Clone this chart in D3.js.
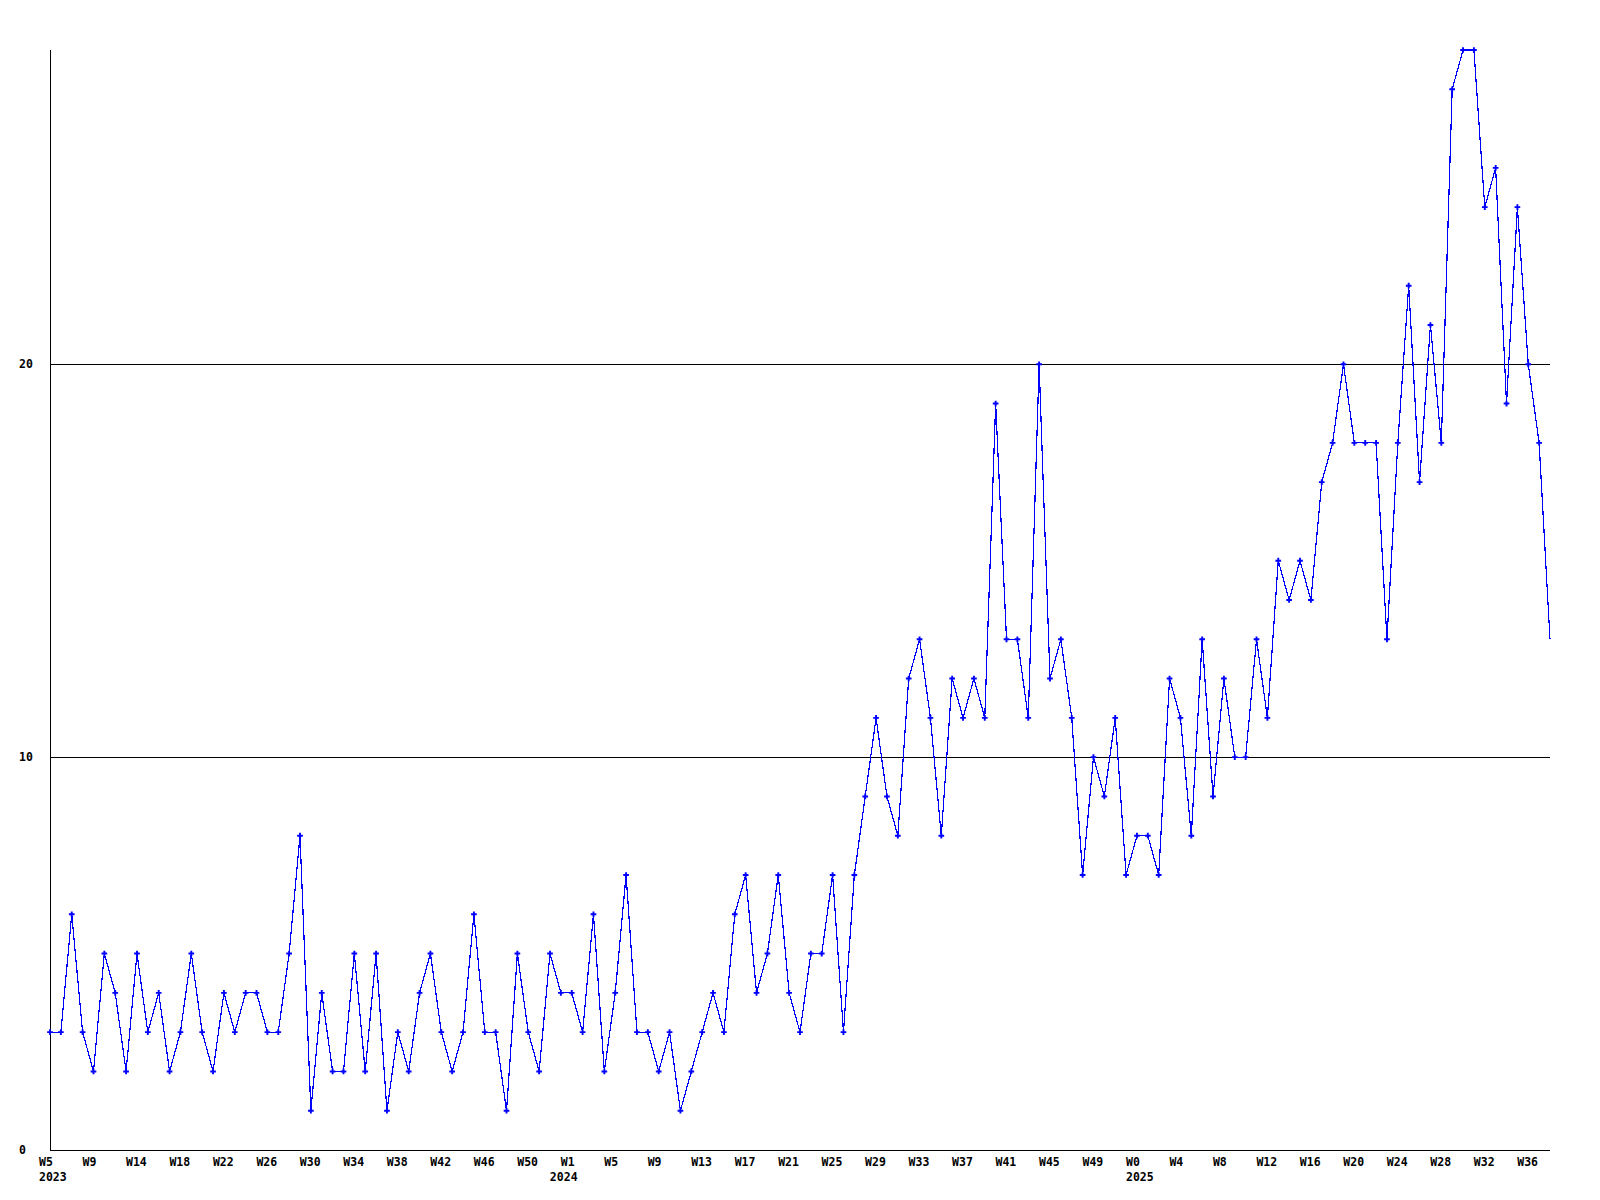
<!DOCTYPE html>
<html>
<head>
<meta charset="utf-8">
<script src="https://cdn.jsdelivr.net/npm/d3@7"></script>
<style>
  html, body { margin: 0; padding: 0; background: #fff; }
  svg { display: block; }
  text { font-family: "DejaVu Sans Mono", "Liberation Mono", monospace; font-weight: bold; font-size: 11.5px; fill: #000; }
</style>
</head>
<body>
<svg id="chart" width="1600" height="1200"></svg>
<script>
// weekly counts, 2023 W5 .. 2025 W38
const values = [
  3, 3, 6, 3, 2, 5, 4, 2, 5, 3, 4, 2, 3, 5, 3, 2, 4, 3, 4, 4,
  3, 3, 5, 8, 1, 4, 2, 2, 5, 2, 5, 1, 3, 2, 4, 5, 3, 2, 3, 6,
  3, 3, 1, 5, 3, 2, 5, 4, 4, 3, 6, 2, 4, 7, 3, 3, 2, 3, 1, 2,
  3, 4, 3, 6, 7, 4, 5, 7, 4, 3, 5, 5, 7, 3, 7, 9, 11, 9, 8, 12,
  13, 11, 8, 12, 11, 12, 11, 19, 13, 13, 11, 20, 12, 13, 11, 7, 10, 9, 11, 7,
  8, 8, 7, 12, 11, 8, 13, 9, 12, 10, 10, 13, 11, 15, 14, 15, 14, 17, 18, 20,
  18, 18, 18, 13, 18, 22, 17, 21, 18, 27, 28, 28, 24, 25, 19, 24, 20, 18, 13
]

// one label every 4 points
const tickLabels = [
  "W5", "W9", "W14", "W18", "W22", "W26", "W30", "W34", "W38", "W42", "W46", "W50",
  "W1", "W5", "W9", "W13", "W17", "W21", "W25", "W29", "W33", "W37", "W41", "W45", "W49",
  "W0", "W4", "W8", "W12", "W16", "W20", "W24", "W28", "W32", "W36"
]
const tickStep = 4

const years = ["2023", "2024", "2025"]
const yearIndex = [0, 47, 100]

const yTicks = [0, 10, 20]
const yMax = 28

const svg = d3.select("#chart")
const plotLeft = 50, plotRight = 1550, plotTop = 50, plotBottom = 1150

const x = d3.scaleLinear().domain([0, values.length - 1]).range([plotLeft, plotRight])
const y = d3.scaleLinear().domain([0, yMax]).range([plotBottom, plotTop])

const g = svg.append("g")

// grid lines (the 0 one doubles as the x axis)
g.selectAll("line.grid")
  .data(yTicks)
  .join("line")
  .attr("class", "grid")
  .attr("x1", plotLeft)
  .attr("x2", plotRight)
  .attr("y1", (d) => Math.round(y(d)) + 0.5)
  .attr("y2", (d) => Math.round(y(d)) + 0.5)
  .attr("stroke", "#000")
  .attr("shape-rendering", "crispEdges")

// y axis line
g.append("line")
  .attr("x1", plotLeft + 0.5)
  .attr("x2", plotLeft + 0.5)
  .attr("y1", plotTop)
  .attr("y2", plotBottom + 1)
  .attr("stroke", "#000")
  .attr("shape-rendering", "crispEdges")

g.selectAll("text.ylab")
  .data(yTicks)
  .join("text")
  .attr("class", "ylab")
  .attr("x", 19)
  .attr("y", (d) => y(d) + 4)
  .text((d) => d)

g.selectAll("text.xlab")
  .data(tickLabels)
  .join("text")
  .attr("class", "xlab")
  .attr("x", (d, i) => x(i * tickStep) - 11)
  .attr("y", 1166)
  .text((d) => d)

g.selectAll("text.year")
  .data(years)
  .join("text")
  .attr("class", "year")
  .attr("x", (d, i) => x(yearIndex[i]) - 11)
  .attr("y", 1181)
  .text((d) => d)

const line = d3.line()
  .x((d, i) => x(i))
  .y((d) => y(d))

g.append("path")
  .datum(values)
  .attr("d", line)
  .attr("fill", "none")
  .attr("stroke", "#0000ff")
  .attr("stroke-width", 1.2)
  .attr("shape-rendering", "crispEdges")

// markers on every point except the running (last) week
const marker = d3.symbol(d3.symbolCross, 18)
g.selectAll("path.pt")
  .data(values.slice(0, -1))
  .join("path")
  .attr("class", "pt")
  .attr("d", marker)
  .attr("transform", (d, i) => `translate(${x(i)},${y(d)})`)
  .attr("fill", "#0000ff")
</script>
</body>
</html>
